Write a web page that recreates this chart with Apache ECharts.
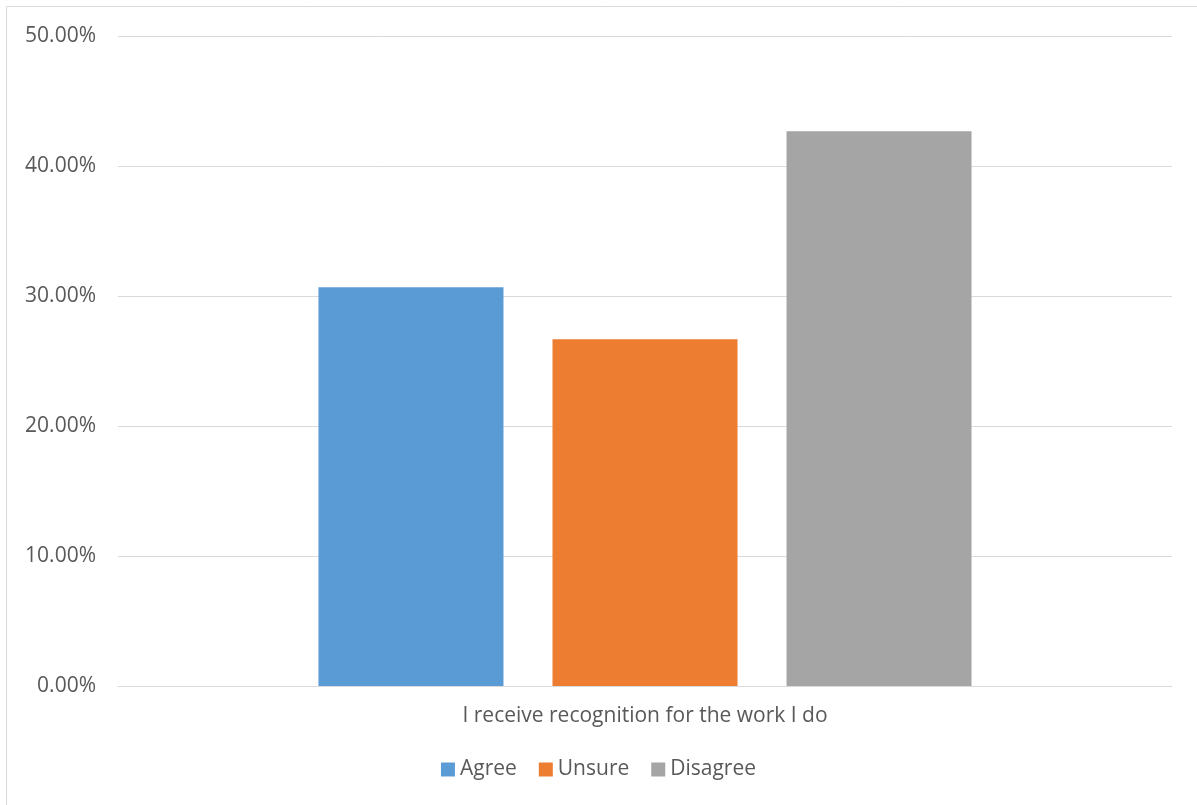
<!DOCTYPE html>
<html><head><meta charset="utf-8">
<script src="https://cdn.jsdelivr.net/npm/echarts@6/dist/echarts.min.js"></script>
<style>html,body{margin:0;padding:0;background:#fff}#c{width:1197px;height:805px}</style>
</head><body><div id="c"></div>
<script>
const categories = ['I receive recognition for the work I do'];
const seriesNames = ['Agree', 'Unsure', 'Disagree'];
const agree = [30.67];
const unsure = [26.67];
const disagree = [42.67];
const colors = ['#5B9BD5', '#ED7D31', '#A5A5A5'];
const values = [agree, unsure, disagree];

const chart = echarts.init(document.getElementById('c'));
const font = 'Open Sans, Liberation Sans, sans-serif';
chart.setOption({
  animation: false,
  graphic: [{type:'rect', shape:{x:6.5,y:6.5,width:1400,height:1000}, style:{fill:'none', stroke:'#D9D9D9', lineWidth:1}, silent:true}],
  grid: {left:118, right:25, top:36, bottom:119},
  legend: {
    data: seriesNames, bottom: 20, left: 'center', icon: 'rect', itemWidth: 14, itemHeight: 14, itemGap: 22,
    textStyle: {fontFamily: font, fontSize: 21, color: '#595959'}
  },
  xAxis: {
    type:'category', data: categories,
    axisLine:{lineStyle:{color:'#D9D9D9', width:1}}, axisTick:{show:false},
    axisLabel:{fontFamily: font, fontSize: 21, color:'#595959', margin: 20}
  },
  yAxis: {
    type:'value', min:0, max:50, interval:10,
    axisLabel:{formatter: v => v.toFixed(2) + '%', fontFamily: font, fontSize: 21, color:'#595959', margin: 22},
    splitLine:{lineStyle:{color:'#D9D9D9', width:1}}, axisLine:{show:false}, axisTick:{show:false}
  },
  series: seriesNames.map((n,i)=>({
    name:n, type:'bar', data: values[i], barWidth: 185, barGap:'26.5%',
    itemStyle:{color: colors[i]}
  }))
});
</script></body></html>
